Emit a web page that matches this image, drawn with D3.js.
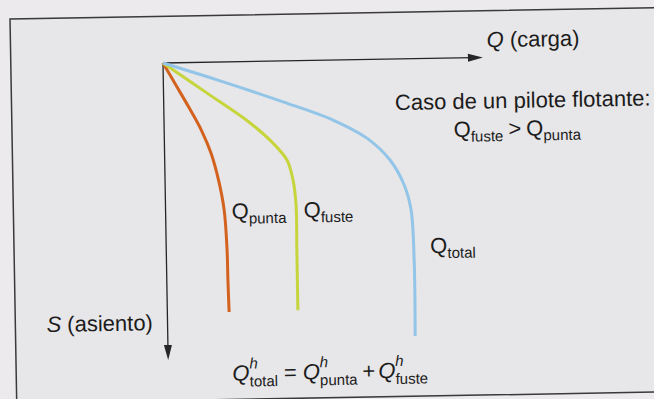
<!DOCTYPE html>
<html>
<head>
<meta charset="utf-8">
<script src="https://cdn.jsdelivr.net/npm/d3@7"></script>
<style>
  html, body { margin: 0; padding: 0; background: #eceaed; }
  svg { display: block; }
  text { font-family: "Liberation Sans", Arial, Helvetica, sans-serif; fill: #1c1c1c; }
</style>
</head>
<body>
<svg id="chart" width="654" height="399"></svg>
<script>
// Load (Q) against settlement (S) along each curve, in chart units (0-100 on both axes)
const settlePunta = [0, 7.5, 15, 22.8, 30.6, 39.7, 49.8, 63.3, 73.4, 84.2];
const loadPunta   = [0, 3.9, 7.8, 11.6, 14.5, 16.7, 18.3, 19.0, 19.1, 19.3];
const settleFuste = [0, 10.4, 20.7, 27.6, 33.4, 40.2, 48.6, 63.7, 84.0];
const loadFuste   = [0, 13.6, 26.9, 33.9, 38.2, 40.0, 40.8, 40.8, 40.8];
const settleTotal = [0, 6.0, 13.8, 20.2, 26.5, 34.0, 42.5, 50.9, 67.8, 93.4];
const loadTotal   = [0, 16.8, 37.3, 52.8, 63.3, 70.4, 74.7, 76.7, 77.4, 77.3];
const curveKeys   = ["punta", "fuste", "total"];
const curveColors = ["#d4621f", "#c6d53b", "#92c5e8"];
const loadDomain   = [0, 100];
const settleDomain = [0, 100];

const svg = d3.select("#chart");

// whole figure sits slightly tilted, pivoting on the axes origin
const root = svg.append("g").attr("transform", "translate(163,63) rotate(-1)");

const x = d3.scaleLinear().domain(loadDomain).range([0, 320]);
const y = d3.scaleLinear().domain(settleDomain).range([0, 297]);

// boxed panel
root.append("rect")
  .attr("x", -152.2).attr("y", -46.7)
  .attr("width", 700).attr("height", 384.3)
  .attr("fill", "#e7e6e8")
  .attr("stroke", "#3a3a3a").attr("stroke-width", 1.5);

// axes with arrowheads
const ink = "#262626";
const [x0, x1] = x.range();
const [y0, y1] = y.range();
root.append("line").attr("x1", x0).attr("y1", y0).attr("x2", x1 - 10).attr("y2", y0)
  .attr("stroke", ink).attr("stroke-width", 1.3);
root.append("path").attr("d", `M${x1},${y0} L${x1 - 15},${y0 - 4} L${x1 - 15},${y0 + 4} Z`).attr("fill", ink);
root.append("line").attr("x1", x0).attr("y1", y0).attr("x2", x0).attr("y2", y1 - 10)
  .attr("stroke", ink).attr("stroke-width", 1.3);
root.append("path").attr("d", `M${x0},${y1} L${x0 - 4},${y1 - 15} L${x0 + 4},${y1 - 15} Z`).attr("fill", ink);

// load-settlement curves
const series = {
  punta: d3.zip(loadPunta, settlePunta),
  fuste: d3.zip(loadFuste, settleFuste),
  total: d3.zip(loadTotal, settleTotal)
};
const line = d3.line().x(d => x(d[0])).y(d => y(d[1])).curve(d3.curveCatmullRom.alpha(0.5));
curveKeys.forEach((k, i) => {
  root.append("path")
    .attr("d", line(series[k]))
    .attr("fill", "none")
    .attr("stroke", curveColors[i])
    .attr("stroke-width", 3)
    .attr("stroke-linecap", "butt");
});

// text made of pieces: base, subscripts and stacked superscripts
function rich(parent, px, py, parts, anchor) {
  const g = parent.append("g");
  let cx = 0, prevX = 0, prevW = 0;
  parts.forEach(p => {
    if (p.gap) { cx += p.gap; return; }
    const t = g.append("text")
      .text(p.t)
      .attr("font-size", p.size || 22)
      .attr("font-style", p.italic ? "italic" : "normal");
    const w = t.node().getComputedTextLength();
    const at = p.stack ? prevX : cx;
    t.attr("x", at).attr("y", p.dy || 0);
    if (p.stack) { cx = Math.max(prevX + prevW, at + w); }
    else { cx = at + w; }
    prevX = at; prevW = w;
  });
  const shift = anchor === "middle" ? -cx / 2 : 0;
  g.attr("transform", `translate(${px + shift},${py})`);
  return g;
}
const sub = (t) => ({ t, size: 15, dy: 5 });

rich(root, 324, -10, [{ t: "Q", italic: true }, { gap: 6 }, { t: "(carga)" }]);
rich(root, -121, 267, [{ t: "S", italic: true }, { gap: 6 }, { t: "(asiento)" }]);

rich(root, 359, 51, [{ t: "Caso de un pilote flotante:" }], "middle");
rich(root, 353, 79, [{ t: "Q" }, sub("fuste"), { gap: 5 }, { t: ">" }, { gap: 5 }, { t: "Q" }, sub("punta")], "middle");

rich(root, 66, 157, [{ t: "Q" }, sub("punta")]);
rich(root, 138, 157, [{ t: "Q" }, sub("fuste")]);
rich(root, 264, 195, [{ t: "Q" }, sub("total")]);

const sup = { t: "h", italic: true, size: 15, dy: -12 };
const subS = (t) => ({ t, size: 15, dy: 6, stack: true });
rich(root, 64, 319, [
  { t: "Q", italic: true }, sup, subS("total"),
  { gap: 6 }, { t: "=" }, { gap: 6 },
  { t: "Q", italic: true }, sup, subS("punta"),
  { gap: 5 }, { t: "+" }, { gap: 3 },
  { t: "Q", italic: true }, sup, subS("fuste")
]);
</script>
</body>
</html>
